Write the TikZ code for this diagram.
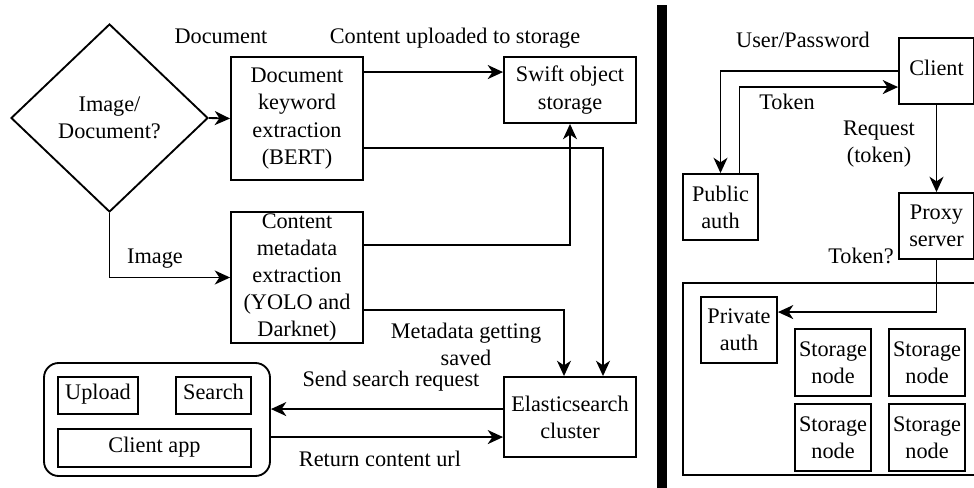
\documentclass[tikz,border=0pt]{standalone}
\usepackage{fontspec}
\setmainfont{Liberation Serif}
\usetikzlibrary{shapes.geometric,arrows.meta,calc}
\tikzset{
  box/.style={draw, line width=1.4pt, align=center, inner sep=0pt, minimum width=#1},
  box/.default=99pt,
  lbl/.style={align=center, inner sep=0pt},
  conn/.style={line width=1.4pt},
  arr/.style={conn, -{Stealth[length=11.5pt,width=10.5pt,inset=3.5pt]}},
  oneline/.style={text height=0.88em, text depth=0.22em},
}
\begin{document}
\begin{tikzpicture}[x=0.75pt,y=-0.75pt,font=\fontsize{16.7pt}{20.4pt}\selectfont]
\clip (0,0) rectangle (974,488);
\fill[white] (0,0) rectangle (974,488);
% ---------- left part ----------
\node[diamond, draw, line width=1.4pt, align=center, inner sep=0pt, minimum width=147.75pt, minimum height=141pt] (dia) at (109.5,118) {Image/\\Document?};
\node[box, minimum height=92.25pt] (doc) at (297,118.5) {Document\\keyword\\extraction\\(BERT)};
\node[box, minimum height=49.5pt] (swift) at (570,90) {Swift object\\storage};
\node[box, minimum height=98.25pt] (content) at (297,277.5) {Content\\metadata\\extraction\\(YOLO and\\Darknet)};
\node[box, minimum height=60pt] (elastic) at (570,417) {Elasticsearch\\cluster};
\node[draw, line width=1.4pt, rounded corners=11pt, minimum width=169.5pt, minimum height=84.75pt] (app) at (157,419.5) {};
\node[box=60pt, minimum height=27.75pt, oneline] (upload) at (98,395.5) {Upload};
\node[box=56.25pt, minimum height=27.75pt, oneline] (search) at (213.5,395.5) {Search};
\node[box=144.75pt, minimum height=28.5pt, oneline] (clientapp) at (154.5,448) {Client app};

\draw[arr] (dia.east) -- (doc.west);
\draw[arr] (dia.south) |- (content.west);
\draw[arr] ($(doc.north east)+(0,16)$) -- ($(swift.north west)+(0,16)$);
\draw[arr] ($(doc.north east)+(0,92)$) -| ($(elastic.north)+(33,0)$);
\draw[arr] ($(content.north east)+(0,34)$) -| (swift.south);
\draw[arr] ($(content.north east)+(0,99)$) -| ($(elastic.north)+(-6,0)$);
\coordinate (sr) at ($(elastic.north west)+(0,33)$);
\coordinate (rc) at ($(app.north east)+(0,75)$);
\draw[arr] (sr) -- (sr -| app.east);
\draw[arr] (rc) -- (rc -| elastic.west);

\node[lbl, oneline] (ldoc) at (221,39) {Document};
\node[lbl, oneline] (lup) at (455,39) {Content uploaded to storage};
\node[lbl, oneline] (limg) at (155,259) {Image};
\node[lbl] (lmeta) at (466,344.5) {Metadata getting\\saved};
\node[lbl, oneline] (lsend) at (391,382) {Send search request};
\node[lbl, oneline] (lret) at (380,462) {Return content url};

% ---------- divider ----------
\fill[black] (657,5) rectangle (667,490);

% ---------- right part ----------
\node[box=56.25pt, minimum height=49.5pt, oneline] (client) at (936.5,71) {Client};
\node[box=56.25pt, minimum height=49.5pt] (pub) at (720.5,207) {Public\\auth};
\node[box=56.25pt, minimum height=49.5pt] (proxy) at (936.5,226) {Proxy\\server};
\draw[line width=1.4pt] (683,283) rectangle (1000,475);
\node[box=57pt, minimum height=49.5pt] (priv) at (739,330) {Private\\auth};
\node[box=57pt, minimum height=50.25pt] (s1) at (833,362.5) {Storage\\node};
\node[box=57pt, minimum height=50.25pt] (s2) at (927,362.5) {Storage\\node};
\node[box=57pt, minimum height=50.25pt] (s3) at (833,437.5) {Storage\\node};
\node[box=57pt, minimum height=50.25pt] (s4) at (927,437.5) {Storage\\node};

\draw[arr] (client.west) -| (pub.north);
\draw[arr] ($(pub.north)+(19,0)$) |- ($(client.north west)+(0,50)$);
\draw[arr] (client.south) -- (proxy.north);
\draw[arr] (proxy.south) |- ($(priv.north east)+(0,16)$);

\node[lbl, oneline] (luser) at (803,43) {User/Password};
\node[lbl, oneline] (ltok) at (787,105) {Token};
\node[lbl] (lreq) at (879,144) {Request\\(token)};
\node[lbl, oneline] (ltokq) at (861,259) {Token?};
\end{tikzpicture}
\end{document}
